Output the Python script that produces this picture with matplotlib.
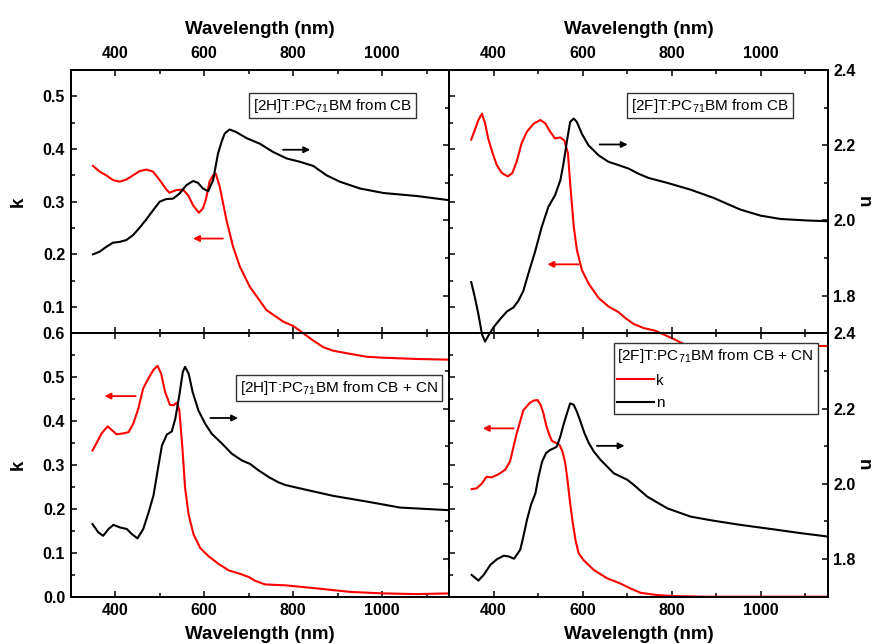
import numpy as np
import matplotlib
matplotlib.use('Agg')
import matplotlib.pyplot as plt
from matplotlib.ticker import MultipleLocator

plt.rcParams['font.family'] = ['Liberation Sans', 'DejaVu Sans']
plt.rcParams['mathtext.default'] = 'regular'

# [2H]T:PC71BM from CB
tl_wl_k = [350, 365, 380, 395, 410, 425, 440, 455, 470, 485, 500, 515, 522, 537, 552, 564, 575, 588,
           597, 604, 612, 620, 626, 635, 650, 665, 680, 702, 740, 778, 800, 823, 842, 868, 890, 928, 965,
           1003, 1078, 1150]
tl_k = [0.368, 0.357, 0.350, 0.341, 0.338, 0.342, 0.350, 0.358, 0.361, 0.357, 0.341, 0.323, 0.317,
        0.322, 0.323, 0.312, 0.293, 0.279, 0.287, 0.305, 0.338, 0.350, 0.353, 0.328, 0.265, 0.214, 0.177,
        0.139, 0.094, 0.072, 0.064, 0.050, 0.038, 0.0235, 0.017, 0.011, 0.0056, 0.0037, 0.0013, 0.0]
tl_wl_n = [350, 365, 380, 395, 410, 425, 440, 455, 470, 485, 500, 515, 530, 545, 560, 575, 586, 597,
           609, 620, 631, 639, 646, 657, 672, 695, 725, 755, 785, 815, 845, 875, 905, 950, 1003, 1078, 1150]
tl_n = [1.910, 1.917, 1.930, 1.941, 1.943, 1.948, 1.961, 1.981, 2.003, 2.027, 2.050, 2.057, 2.058,
        2.072, 2.094, 2.105, 2.100, 2.085, 2.078, 2.107, 2.178, 2.209, 2.231, 2.242, 2.235, 2.219, 2.204,
        2.182, 2.165, 2.156, 2.145, 2.120, 2.103, 2.085, 2.073, 2.065, 2.054]

# [2F]T:PC71BM from CB
tr_wl_k = [350, 358, 366, 374, 381, 388, 398, 407, 418, 432, 442, 452, 463, 475, 490, 505, 516, 527,
           538, 550, 559, 567, 572, 580, 587, 598, 613, 636, 658, 681, 696, 714, 737, 763, 805, 831,
           870, 950, 1050, 1150]
tr_k = [0.418, 0.436, 0.455, 0.467, 0.449, 0.420, 0.392, 0.370, 0.355, 0.348, 0.354, 0.376, 0.411,
        0.433, 0.448, 0.455, 0.449, 0.433, 0.420, 0.422, 0.416, 0.392, 0.335, 0.253, 0.209, 0.171,
        0.145, 0.117, 0.101, 0.090, 0.079, 0.068, 0.060, 0.055, 0.039, 0.028, 0.027, 0.026, 0.026,
        0.026]
tr_wl_n = [350, 358, 366, 374, 381, 388, 400, 415, 430, 445, 456, 467, 478, 493, 508, 523, 538, 550,
           557, 565, 572, 580, 587, 598, 613, 636, 658, 681, 703, 726, 748, 790, 842, 894, 954, 999,
           1044, 1104, 1150]
tr_n = [1.836, 1.796, 1.751, 1.698, 1.678, 1.693, 1.716, 1.738, 1.758, 1.769, 1.787, 1.813, 1.858,
        1.916, 1.982, 2.036, 2.067, 2.107, 2.151, 2.213, 2.262, 2.271, 2.262, 2.231, 2.200, 2.173,
        2.156, 2.147, 2.138, 2.124, 2.113, 2.100, 2.082, 2.060, 2.029, 2.013, 2.004, 2.000, 1.998]

# [2H]T:PC71BM from CB + CN
bl_wl_k = [349, 358, 370, 383, 392, 403, 418, 430, 441, 452, 463, 475, 486, 495, 503, 512, 523, 531,
           538, 544, 551, 557, 565, 576, 591, 610, 632, 655, 681, 700, 715, 737, 782, 853, 928, 1003,
           1078, 1150]
bl_k = [0.333, 0.350, 0.373, 0.388, 0.380, 0.370, 0.372, 0.375, 0.395, 0.429, 0.475, 0.498, 0.517,
        0.526, 0.509, 0.467, 0.437, 0.436, 0.442, 0.426, 0.339, 0.248, 0.187, 0.142, 0.111, 0.092,
        0.075, 0.060, 0.052, 0.045, 0.036, 0.028, 0.026, 0.019, 0.011, 0.0076, 0.006, 0.0076]
bl_wl_n = [349, 362, 373, 385, 396, 411, 426, 437, 450, 463, 475, 486, 496, 505, 516, 527, 535, 544,
           552, 557, 565, 574, 587, 602, 617, 640, 662, 685, 703, 722, 745, 767, 782, 815, 890, 965,
           1040, 1150]
bl_n = [1.893, 1.871, 1.862, 1.880, 1.891, 1.884, 1.880, 1.867, 1.855, 1.880, 1.924, 1.969, 2.040,
        2.102, 2.131, 2.139, 2.173, 2.235, 2.298, 2.311, 2.293, 2.244, 2.195, 2.160, 2.133, 2.107,
        2.080, 2.062, 2.053, 2.036, 2.018, 2.004, 1.997, 1.988, 1.968, 1.953, 1.937, 1.930]

# [2F]T:PC71BM from CB + CN
br_wl_k = [351, 362, 374, 384, 396, 411, 426, 437, 452, 467, 482, 491, 499, 506, 512, 518, 524, 531,
           539, 548, 555, 561, 566, 572, 578, 584, 591, 602, 625, 655, 685, 707, 730, 767, 805, 880,
           1150]
br_k = [0.245, 0.247, 0.258, 0.273, 0.272, 0.279, 0.289, 0.308, 0.372, 0.425, 0.442, 0.447, 0.448,
        0.436, 0.418, 0.391, 0.372, 0.355, 0.351, 0.346, 0.330, 0.304, 0.266, 0.213, 0.167, 0.129,
        0.099, 0.0835, 0.061, 0.042, 0.030, 0.019, 0.009, 0.0038, 0.0015, 0.0, 0.0]
br_wl_n = [351, 366, 378, 393, 408, 423, 434, 446, 460, 467, 475, 484, 494, 501, 509, 518, 527, 536,
           542, 550, 557, 565, 572, 580, 587, 595, 604, 614, 625, 640, 670, 700, 715, 745, 790, 842,
           894, 954, 1029, 1089, 1150]
br_n = [1.758, 1.743, 1.758, 1.785, 1.800, 1.809, 1.807, 1.801, 1.825, 1.860, 1.904, 1.944, 1.975,
        2.019, 2.059, 2.082, 2.090, 2.095, 2.099, 2.126, 2.157, 2.188, 2.214, 2.210, 2.192, 2.166,
        2.135, 2.108, 2.086, 2.064, 2.028, 2.011, 1.997, 1.966, 1.935, 1.913, 1.902, 1.891, 1.879,
        1.869, 1.860]

fig = plt.figure(figsize=(8.74, 6.44), dpi=100)

x0, xm, x1 = 0.0809, 0.5137, 0.9470
y0, ym, y1 = 0.0734, 0.4824, 0.8913
boxes = {'tl': [x0, ym, xm - x0, y1 - ym], 'tr': [xm, ym, x1 - xm, y1 - ym],
         'bl': [x0, y0, xm - x0, ym - y0], 'br': [xm, y0, x1 - xm, ym - y0]}


def style(a):
    a.set_facecolor('none')
    for s in a.spines.values():
        s.set_linewidth(1.3)
    a.tick_params(which='both', direction='in', top=True, bottom=True, width=1.1)
    a.tick_params(which='major', length=4.5)
    a.tick_params(which='minor', length=3)
    a.set_xlim(300, 1150)
    a.xaxis.set_major_locator(MultipleLocator(200))
    a.xaxis.set_minor_locator(MultipleLocator(100))


panels = {}
for key in ['tl', 'tr', 'bl', 'br']:
    ax = fig.add_axes(boxes[key])
    axn = ax.twinx()
    top = key[0] == 't'
    left = key[1] == 'l'
    ax.set_ylim((0.05, 0.55) if top else (0.0, 0.6))
    ax.yaxis.set_major_locator(MultipleLocator(0.1))
    ax.yaxis.set_minor_locator(MultipleLocator(0.05))
    axn.set_ylim(1.7, 2.4)
    axn.yaxis.set_major_locator(MultipleLocator(0.2))
    axn.yaxis.set_minor_locator(MultipleLocator(0.1))
    style(ax)
    style(axn)
    ax.tick_params(axis='x', labeltop=top, labelbottom=not top, labelsize=11.5,
                   pad=6.5 if top else 4.5)
    ax.tick_params(axis='y', which='both', left=True, right=False, labelleft=left,
                   labelsize=11.5, pad=4)
    axn.tick_params(axis='y', which='both', right=True, left=False, labelright=not left,
                    labelsize=11.5, pad=4)
    for lab in ax.get_xticklabels() + ax.get_yticklabels() + axn.get_yticklabels():
        lab.set_fontweight('bold')
    if top:
        ax.xaxis.set_label_position('top')
    ax.set_xlabel('Wavelength (nm)', fontsize=13.5, fontweight='bold')
    ax.xaxis.set_label_coords(0.5, 1.137 if top else -0.111)
    if left:
        ax.set_ylabel('k', fontsize=13.5, fontweight='bold')
        ax.yaxis.set_label_coords(-0.115, 0.5)
    else:
        axn.set_ylabel('n', fontsize=13.5, fontweight='bold', rotation=-90, va='center')
        axn.yaxis.set_label_coords(1.093, 0.5)
    panels[key] = (ax, axn)

lw = 1.5
data = {'tl': (tl_wl_k, tl_k, tl_wl_n, tl_n), 'tr': (tr_wl_k, tr_k, tr_wl_n, tr_n),
        'bl': (bl_wl_k, bl_k, bl_wl_n, bl_n), 'br': (br_wl_k, br_k, br_wl_n, br_n)}
lines = {}
for key, (wk, k, wn, n) in data.items():
    ax, axn = panels[key]
    lk, = ax.plot(wk, k, color='red', lw=lw, clip_on=False, solid_joinstyle='round')
    ln, = axn.plot(wn, n, color='black', lw=lw, clip_on=False, solid_joinstyle='round')
    lines[key] = (lk, ln)

# arrows pointing to the axis each curve belongs to
arrow = dict(arrowstyle='-|>', lw=1.3, mutation_scale=9, shrinkA=0, shrinkB=0)
ax, axn = panels['tl']
axn.annotate('', xy=(838, 2.188), xytext=(777, 2.188), arrowprops=dict(arrow, color='black'))
ax.annotate('', xy=(575, 0.230), xytext=(642, 0.230), arrowprops=dict(arrow, color='red'))
ax, axn = panels['tr']
axn.annotate('', xy=(701, 2.202), xytext=(638, 2.202), arrowprops=dict(arrow, color='black'))
ax.annotate('', xy=(521, 0.181), xytext=(591, 0.181), arrowprops=dict(arrow, color='red'))
ax, axn = panels['bl']
ax.annotate('', xy=(376, 0.457), xytext=(446, 0.457), arrowprops=dict(arrow, color='red'))
axn.annotate('', xy=(676, 2.175), xytext=(614, 2.175), arrowprops=dict(arrow, color='black'))
ax, axn = panels['br']
ax.annotate('', xy=(376, 0.3835), xytext=(445, 0.3835), arrowprops=dict(arrow, color='red'))
axn.annotate('', xy=(694, 2.101), xytext=(632, 2.101), arrowprops=dict(arrow, color='black'))

box = dict(boxstyle='square,pad=0.25', facecolor='white', edgecolor='#333333', lw=1.0)
panels['tl'][1].text(0.693, 0.865, '[2H]T:PC$_{71}$BM from CB', transform=panels['tl'][1].transAxes,
                     ha='center', va='center', fontsize=11, bbox=box)
panels['tr'][1].text(0.689, 0.865, '[2F]T:PC$_{71}$BM from CB', transform=panels['tr'][1].transAxes,
                     ha='center', va='center', fontsize=11, bbox=box)
panels['bl'][1].text(0.709, 0.792, '[2H]T:PC$_{71}$BM from CB + CN', transform=panels['bl'][1].transAxes,
                     ha='center', va='center', fontsize=11, bbox=box)

lk, ln = lines['br']
leg = panels['br'][1].legend([lk, ln], ['k', 'n'], title='[2F]T:PC$_{71}$BM from CB + CN',
                             loc='upper right', bbox_to_anchor=(0.974, 0.962), borderaxespad=0,
                             fontsize=11, title_fontsize=11, fancybox=False, framealpha=1,
                             edgecolor='#333333', handlelength=2.4, handletextpad=0.1,
                             borderpad=0.25, labelspacing=0.55)
leg._legend_box.align = 'left'
leg.get_frame().set_linewidth(1.0)

fig.savefig('out.png', dpi=100)
